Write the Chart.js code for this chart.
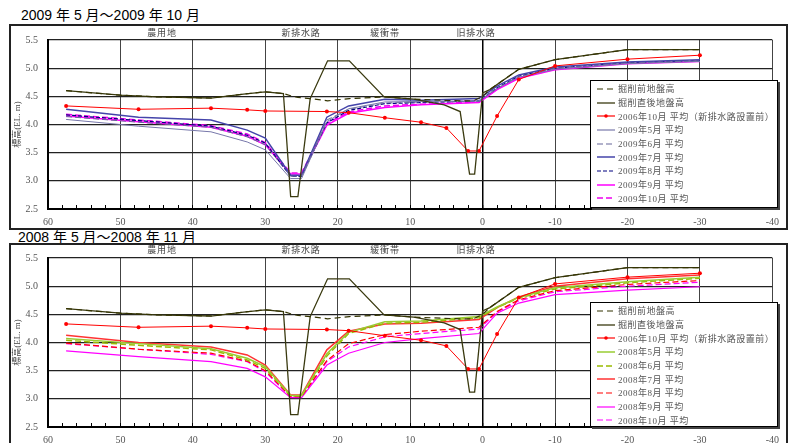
<!DOCTYPE html>
<html>
<head>
<meta charset="utf-8">
<script src="https://cdn.jsdelivr.net/npm/chart.js@4.4.1/dist/chart.umd.min.js"></script>
<style>
body{margin:0;width:790px;height:443px;overflow:hidden;background:#fff;position:relative;}
.box{position:absolute;left:9px;width:779px;border:2px solid #222;box-sizing:border-box;}
.title{position:absolute;font-family:'Liberation Sans','Noto Sans CJK JP',sans-serif;font-size:14px;line-height:18px;color:#000;white-space:nowrap;}
.cat{position:absolute;font-family:'Liberation Serif','Noto Sans CJK JP',serif;font-size:9px;line-height:12px;color:#444;letter-spacing:0.8px;transform:translateX(-50%);white-space:nowrap;}
canvas{position:absolute;left:0;}
.legend{position:absolute;left:590px;width:188px;background:#fff;border:1px solid #000;box-shadow:2px 2px 0 #444;box-sizing:border-box;padding-top:1px;}
.row{height:13.7px;display:flex;align-items:center;font-family:'Liberation Serif','Noto Sans CJK JP',serif;font-size:9px;color:#555;letter-spacing:0.5px;white-space:nowrap;}
.row svg{margin-left:6px;margin-right:3px;flex:none;}
</style>
</head>
<body>
<div class="title" style="left:21px;top:6px;">2009 年 5 月～2009 年 10 月</div>
<div class="box" style="top:24px;height:206px;"></div>
<div class="title" style="left:18px;top:228px;">2008 年 5 月～2008 年 11 月</div>
<div class="box" style="top:243px;height:210px;"></div>

<canvas id="chart1" width="790" height="232" style="top:0;"></canvas>
<canvas id="chart2" width="790" height="225" style="top:218px;"></canvas>

<div class="cat" style="left:162px;top:27px;">農用地</div>
<div class="cat" style="left:301px;top:27px;">新排水路</div>
<div class="cat" style="left:385px;top:27px;">緩衝帯</div>
<div class="cat" style="left:476px;top:27px;">旧排水路</div>
<div class="cat" style="left:162px;top:244px;">農用地</div>
<div class="cat" style="left:301px;top:244px;">新排水路</div>
<div class="cat" style="left:385px;top:244px;">緩衝帯</div>
<div class="cat" style="left:476px;top:244px;">旧排水路</div>

<div class="legend" id="legend1" style="top:80px;height:128px;"></div>
<div class="legend" id="legend2" style="top:302px;height:125px;"></div>

<script>
// distance (m) and ground elevation (EL. m)
const groundX   = [57.5, 50, 45, 37.5, 33, 30, 27.5, 26.5, 25.5, 23.8, 21.4, 18.4, 13.6, 9.5, 5.3, 3.1, 1.8, 1.1, 0, -1, -5, -10, -20, -30];
const afterExc  = [4.60, 4.52, 4.49, 4.47, 4.54, 4.58, 4.55, 2.72, 2.72, 4.46, 5.13, 5.13, 4.49, 4.45, 4.35, 4.23, 3.12, 3.12, 4.56, 4.62, 4.98, 5.15, 5.33, 5.33];
const beforeExc = [4.60, 4.52, 4.49, 4.47, 4.54, 4.58, 4.55, 4.51, 4.48, 4.46, 4.42, 4.46, 4.49, 4.45, 4.43, 4.42, 4.42, 4.43, 4.50, 4.62, 4.98, 5.15, 5.33, 5.33];

// 2006 Oct average (before new drain)
const x2006 = [57.5, 47.5, 37.5, 32.5, 30, 21.5, 18.5, 13.5, 8.5, 5, 2, 0.5, -2, -5, -10, -20, -30];
const v2006 = [4.33, 4.27, 4.29, 4.26, 4.24, 4.23, 4.21, 4.12, 4.04, 3.94, 3.53, 3.53, 4.15, 4.80, 5.04, 5.16, 5.23];

// monthly averages
const xMonth = [57.5, 47.5, 37.5, 32.5, 30, 26.5, 25, 21.5, 18.5, 13.5, 8.5, 0.5, -2, -5, -10, -20, -30];
const may09 = [4.09, 3.97, 3.87, 3.69, 3.55, 3.04, 3.04, 4.05, 4.28, 4.40, 4.41, 4.42, 4.64, 4.84, 4.98, 5.08, 5.12];
const jun09 = [4.14, 4.04, 3.95, 3.78, 3.64, 3.08, 3.08, 4.08, 4.27, 4.38, 4.40, 4.41, 4.64, 4.85, 5.00, 5.09, 5.13];
const jul09 = [4.27, 4.13, 4.08, 3.90, 3.76, 3.10, 3.10, 4.13, 4.33, 4.45, 4.43, 4.46, 4.68, 4.88, 5.02, 5.11, 5.15];
const aug09 = [4.17, 4.07, 3.97, 3.81, 3.67, 3.08, 3.08, 4.03, 4.25, 4.37, 4.39, 4.42, 4.65, 4.86, 5.00, 5.10, 5.13];
const sep09 = [4.15, 4.05, 3.95, 3.79, 3.64, 3.12, 3.12, 3.99, 4.20, 4.30, 4.35, 4.39, 4.62, 4.82, 4.97, 5.08, 5.12];
const oct09 = [4.18, 4.08, 3.98, 3.83, 3.68, 3.14, 3.14, 4.02, 4.22, 4.33, 4.36, 4.40, 4.63, 4.83, 4.98, 5.09, 5.13];

const may08 = [4.07, 3.98, 3.89, 3.72, 3.57, 3.06, 3.06, 3.80, 4.18, 4.37, 4.38, 4.46, 4.63, 4.80, 4.97, 5.08, 5.16];
const jun08 = [4.04, 3.95, 3.87, 3.69, 3.54, 3.05, 3.05, 3.76, 4.16, 4.34, 4.36, 4.44, 4.62, 4.79, 4.95, 5.06, 5.14];
const jul08 = [4.13, 4.00, 3.92, 3.78, 3.60, 3.07, 3.07, 3.87, 4.20, 4.33, 4.34, 4.41, 4.62, 4.81, 5.00, 5.13, 5.20];
const aug08 = [3.99, 3.88, 3.81, 3.67, 3.50, 3.04, 3.04, 3.68, 3.98, 4.14, 4.20, 4.27, 4.55, 4.76, 4.92, 5.03, 5.10];
const sep08 = [3.85, 3.75, 3.66, 3.54, 3.39, 3.02, 3.02, 3.60, 3.81, 4.00, 4.07, 4.16, 4.52, 4.70, 4.85, 4.93, 4.99];
const oct08 = [3.98, 3.88, 3.79, 3.66, 3.48, 3.03, 3.03, 3.66, 3.92, 4.10, 4.16, 4.24, 4.54, 4.74, 4.90, 5.00, 5.07];

const serif = "'Liberation Serif', 'Noto Sans CJK JP', serif";

function pts(xs, ys) {
  return xs.map((x, i) => ({x: x, y: ys[i]}));
}

function line(label, xs, ys, color, width, dash) {
  return {
    label: label, data: pts(xs, ys), borderColor: color, backgroundColor: color,
    borderWidth: width, borderDash: dash || [], pointRadius: 0, tension: 0, fill: false
  };
}

function baseSets() {
  return [
    line('掘削前地盤高', groundX, beforeExc, '#333300', 1.2, [6, 4]),
    line('掘削直後地盤高', groundX, afterExc, '#3a3a10', 1.3),
    Object.assign(line('2006年10月 平均（新排水路設置前）', x2006, v2006, '#ff0000', 1), {pointRadius: 2, pointBorderWidth: 0})
  ];
}

const sets1 = baseSets().concat([
  line('2009年5月 平均', xMonth, may09, '#7777aa', 1),
  line('2009年6月 平均', xMonth, jun09, '#666699', 1, [6, 3]),
  line('2009年7月 平均', xMonth, jul09, '#4444aa', 1.5),
  line('2009年8月 平均', xMonth, aug09, '#000080', 1.2, [4, 2]),
  line('2009年9月 平均', xMonth, sep09, '#ff00ff', 1.5),
  line('2009年10月 平均', xMonth, oct09, '#ee00ee', 1.5, [6, 3])
]);

const sets2 = baseSets().concat([
  line('2008年5月 平均', xMonth, may08, '#99cc33', 1.5),
  line('2008年6月 平均', xMonth, jun08, '#99bb00', 1.5, [6, 3]),
  line('2008年7月 平均', xMonth, jul08, '#ff3333', 1.5),
  line('2008年8月 平均', xMonth, aug08, '#ff0000', 1.2, [6, 3]),
  line('2008年9月 平均', xMonth, sep08, '#ff00ff', 1.2),
  line('2008年10月 平均', xMonth, oct08, '#ff00ff', 1.2, [6, 3])
]);

function makeChart(id, sets, bottomH) {
  return new Chart(document.getElementById(id), {
    type: 'line',
    data: {datasets: sets},
    options: {
      responsive: false,
      animation: false,
      layout: {padding: {top: 40, right: 12, left: 0, bottom: 0}},
      plugins: {legend: {display: false}, tooltip: {enabled: false}},
      scales: {
        x: {
          type: 'linear', reverse: true, min: -40, max: 60,
          afterFit: s => { s.height = bottomH; },
          ticks: {
            stepSize: 2, autoSkip: false, maxRotation: 0, maxTicksLimit: 100, padding: 11,
            color: '#555', font: {family: serif, size: 10},
            callback: v => (v % 10 === 0 ? String(v) : '')
          },
          grid: {
            color: c => (c.tick && c.tick.value % 10 === 0 ? (c.tick.value === 0 ? '#000' : '#444') : 'rgba(0,0,0,0)'),
            lineWidth: c => (c.tick && c.tick.value === 0 ? 1.5 : 1),
            drawTicks: true, tickLength: -4, tickColor: '#000', tickWidth: 1
          },
          border: {color: '#000', width: 2}
        },
        y: {
          min: 2.5, max: 5.5,
          afterFit: s => { s.width = 48; },
          ticks: {
            stepSize: 0.5, padding: 10, color: '#555', font: {family: serif, size: 10},
            callback: v => v.toFixed(1)
          },
          grid: {color: '#222', lineWidth: 1.2, drawTicks: false},
          border: {color: '#000', width: 2},
          title: {display: true, text: '標高(EL. m)', color: '#444', font: {family: serif, size: 9}, padding: {top: 12, bottom: 0}}
        }
      }
    }
  });
}

function buildLegend(el, sets) {
  sets.forEach(d => {
    const row = document.createElement('div');
    row.className = 'row';
    const dash = d.borderDash && d.borderDash.length ? ' stroke-dasharray="' + d.borderDash.join(',') + '"' : '';
    let svg = '<svg width="18" height="6"><line x1="0" y1="3" x2="18" y2="3" stroke="' + d.borderColor +
      '" stroke-width="' + Math.max(d.borderWidth, 1.2) + '"' + dash + '/>';
    if (d.pointRadius) svg += '<circle cx="9" cy="3" r="1.8" fill="' + d.borderColor + '"/>';
    svg += '</svg>';
    row.innerHTML = svg + '<span>' + d.label + '</span>';
    el.appendChild(row);
  });
}

makeChart('chart1', sets1, 23);
makeChart('chart2', sets2, 16);
buildLegend(document.getElementById('legend1'), sets1);
buildLegend(document.getElementById('legend2'), sets2);
</script>
</body>
</html>
